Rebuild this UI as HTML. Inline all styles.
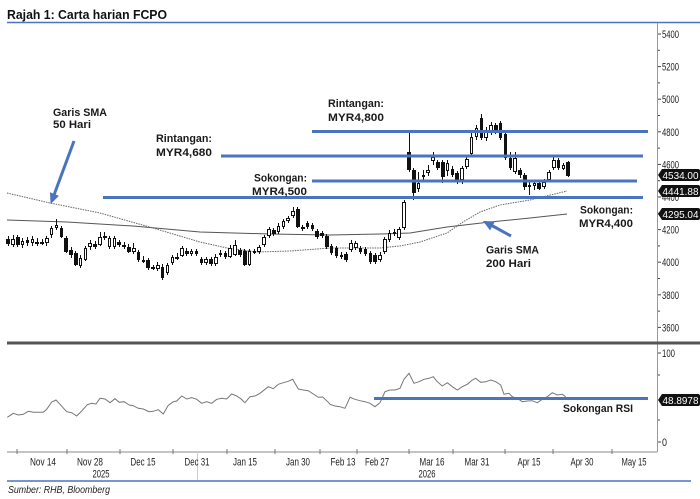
<!DOCTYPE html>
<html><head><meta charset="utf-8">
<style>
html,body{margin:0;padding:0;background:#fff;}
body{width:700px;height:499px;overflow:hidden;position:relative;font-family:"Liberation Sans",sans-serif;}
svg{position:absolute;left:0;top:0;}
.c{position:absolute;left:5.9px;top:0;height:499px;display:flex;}
.c i{flex:none;width:4.83px;height:499px;position:relative;}
.c i::before{content:"";position:absolute;left:1.9px;width:1px;top:calc(var(--h)*1px);height:calc((var(--l) - var(--h))*1px);background:#111;}
.c i::after{content:"";position:absolute;left:0.5px;width:3.6px;box-sizing:border-box;top:calc(var(--t)*1px);height:calc((var(--b) - var(--t))*1px);min-height:1px;border:1px solid #111;background:#fff;}
.c i.b::after{background:#111;}
</style></head><body>

<svg width="700" height="499" viewBox="0 0 700 499">
  <text x="7" y="19" font-size="12.5" font-weight="bold" fill="#111" textLength="160" lengthAdjust="spacingAndGlyphs">Rajah 1: Carta harian FCPO</text>
  <line x1="7" y1="22.5" x2="700" y2="22.5" stroke="#4a74be" stroke-width="1.5"/>

  <line x1="657.5" y1="23" x2="657.5" y2="452" stroke="#999" stroke-width="1"/>
  <g stroke="#444" stroke-width="1">
    <line x1="658" y1="34" x2="661" y2="34"/><line x1="658" y1="50.3" x2="660" y2="50.3"/>
    <line x1="658" y1="66.6" x2="661" y2="66.6"/><line x1="658" y1="82.9" x2="660" y2="82.9"/>
    <line x1="658" y1="99.2" x2="661" y2="99.2"/><line x1="658" y1="115.5" x2="660" y2="115.5"/>
    <line x1="658" y1="131.8" x2="661" y2="131.8"/><line x1="658" y1="148.1" x2="660" y2="148.1"/>
    <line x1="658" y1="164.4" x2="661" y2="164.4"/><line x1="658" y1="180.7" x2="660" y2="180.7"/>
    <line x1="658" y1="197" x2="661" y2="197"/><line x1="658" y1="213.3" x2="660" y2="213.3"/>
    <line x1="658" y1="229.6" x2="661" y2="229.6"/><line x1="658" y1="245.9" x2="660" y2="245.9"/>
    <line x1="658" y1="262.2" x2="661" y2="262.2"/><line x1="658" y1="278.5" x2="660" y2="278.5"/>
    <line x1="658" y1="294.8" x2="661" y2="294.8"/><line x1="658" y1="311.1" x2="660" y2="311.1"/>
    <line x1="658" y1="327.4" x2="661" y2="327.4"/>
    <line x1="658" y1="353" x2="661" y2="353"/><line x1="658" y1="375" x2="660" y2="375"/>
    <line x1="658" y1="420" x2="660" y2="420"/><line x1="658" y1="442" x2="661" y2="442"/>
  </g>
  <g font-size="11" fill="#222">
    <text x="662" y="38" textLength="17" lengthAdjust="spacingAndGlyphs">5400</text>
    <text x="662" y="70.6" textLength="17" lengthAdjust="spacingAndGlyphs">5200</text>
    <text x="662" y="103.2" textLength="17" lengthAdjust="spacingAndGlyphs">5000</text>
    <text x="662" y="135.8" textLength="17" lengthAdjust="spacingAndGlyphs">4800</text>
    <text x="662" y="168.4" textLength="17" lengthAdjust="spacingAndGlyphs">4600</text>
    <text x="662" y="201" textLength="17" lengthAdjust="spacingAndGlyphs">4400</text>
    <text x="662" y="233.6" textLength="17" lengthAdjust="spacingAndGlyphs">4200</text>
    <text x="662" y="266.2" textLength="17" lengthAdjust="spacingAndGlyphs">4000</text>
    <text x="662" y="298.8" textLength="17" lengthAdjust="spacingAndGlyphs">3800</text>
    <text x="662" y="331.4" textLength="17" lengthAdjust="spacingAndGlyphs">3600</text>
    <text x="662" y="357" textLength="13" lengthAdjust="spacingAndGlyphs">100</text>
    <text x="662" y="446" textLength="5" lengthAdjust="spacingAndGlyphs">0</text>
  </g>

  <line x1="7" y1="343" x2="700" y2="343" stroke="#555" stroke-width="3"/>

  <polyline fill="none" stroke="#555" stroke-width="1" points="7,220 67,222 133,226 200,232 270,234 330,235 380,234 410,233 447,227 490,222 530,218 567,214"/>
  <polyline fill="none" stroke="#666" stroke-width="1" stroke-dasharray="1.5,1" points="7,193 50,203 100,213 153,228 200,242 227,248 257,252 290,251 330,248 357,248 380,248 400,246 420,242 447,233 463,222 480,212 500,205 530,200 567,191"/>

  <polyline fill="none" stroke="#777" stroke-width="1" points="7.3,417.3 13.3,413.3 18.3,415 23.3,414.3 28.3,411.3 33.3,412.3 43.3,412.3 46.7,409.3 51.7,402 56,400 60,404.3 66.7,411.7 71.7,412.7 76.7,416 81.7,411 87.3,404.7 91.7,403.3 96,404 100,398.3 105,399 110,402.7 115,398.7 119.3,402.3 124,401.7 129.3,405 133.3,405.7 138.3,408.3 143.3,409 149,411.7 153.3,411.3 158.3,409.7 163.3,414 168.3,405.3 173.3,401.7 176.7,401 181.7,396 186.7,399 191.7,397.7 196.7,399.3 201.7,403.3 206.7,401.7 211.7,403.3 216.7,399.3 221.7,398.3 226.7,399 231.7,394 236.7,396 240.7,398.7 245,402.7 250,396.7 255,396 260,393.3 265,389.3 268.3,386.7 273.3,388.7 278.3,384.3 283.3,382.7 288.3,381.3 292.7,379.3 298.3,389 303.3,390 308.3,390.7 313.3,394 318.3,397.3 322.7,397 328.3,402.3 330,404.3 335,406 340,406.7 345,408.3 350,397.3 355,399.3 360,400.7 365,401.7 370,403.3 375,406.7 380,402.7 385,391.7 390,390 395,390 400,388.3 404,379.3 409,373.3 414,383.3 419,381.7 424,379.3 429,378.3 433.3,376.7 437.3,381.7 442.3,386 447.3,382.7 452.3,386.7 457.3,390 462.3,386.7 467.3,384.3 472.3,380 475.7,378.3 480.7,382.3 485.7,381.7 490.7,380 495.7,381.7 500.7,385 504,394.3 509,393.3 512.3,396.7 517.3,398.3 522.3,401.7 527.3,401 532.3,400.7 537.3,402.7 542.3,399.3 547.3,396.7 552.3,392.7 557.3,395 562.3,394.3 565.7,396.7"/>

  <line x1="7" y1="452" x2="657" y2="452" stroke="#888" stroke-width="1"/>
  <g stroke="#777" stroke-width="1">
    <line x1="17" y1="449" x2="17" y2="454"/><line x1="67" y1="449" x2="67" y2="454"/>
    <line x1="120" y1="449" x2="120" y2="454"/><line x1="173" y1="449" x2="173" y2="454"/>
    <line x1="227" y1="449" x2="227" y2="454"/><line x1="275" y1="449" x2="275" y2="454"/>
    <line x1="320" y1="449" x2="320" y2="454"/><line x1="357" y1="449" x2="357" y2="454"/>
    <line x1="409" y1="449" x2="409" y2="454"/><line x1="453" y1="449" x2="453" y2="454"/>
    <line x1="505" y1="449" x2="505" y2="454"/><line x1="553" y1="449" x2="553" y2="454"/>
    <line x1="612" y1="449" x2="612" y2="454"/>
    <line x1="197.5" y1="452" x2="197.5" y2="481" stroke="#ccc"/>
  </g>
  <g font-size="11" fill="#222" text-anchor="middle">
    <text x="43" y="465.5" textLength="26" lengthAdjust="spacingAndGlyphs">Nov 14</text>
    <text x="90" y="465.5" textLength="26" lengthAdjust="spacingAndGlyphs">Nov 28</text>
    <text x="143" y="465.5" textLength="25" lengthAdjust="spacingAndGlyphs">Dec 15</text>
    <text x="197" y="465.5" textLength="25" lengthAdjust="spacingAndGlyphs">Dec 31</text>
    <text x="245" y="465.5" textLength="24" lengthAdjust="spacingAndGlyphs">Jan 15</text>
    <text x="298" y="465.5" textLength="24" lengthAdjust="spacingAndGlyphs">Jan 30</text>
    <text x="343" y="465.5" textLength="25" lengthAdjust="spacingAndGlyphs">Feb 13</text>
    <text x="377" y="465.5" textLength="24" lengthAdjust="spacingAndGlyphs">Feb 27</text>
    <text x="432" y="465.5" textLength="25" lengthAdjust="spacingAndGlyphs">Mar 16</text>
    <text x="477" y="465.5" textLength="25" lengthAdjust="spacingAndGlyphs">Mar 31</text>
    <text x="529" y="465.5" textLength="23" lengthAdjust="spacingAndGlyphs">Apr 15</text>
    <text x="582" y="465.5" textLength="23" lengthAdjust="spacingAndGlyphs">Apr 30</text>
    <text x="634" y="465.5" textLength="25" lengthAdjust="spacingAndGlyphs">May 15</text>
    <text x="101" y="477.5" textLength="17" lengthAdjust="spacingAndGlyphs">2025</text>
    <text x="427" y="477.5" textLength="17" lengthAdjust="spacingAndGlyphs">2026</text>
  </g>
  <line x1="7" y1="481" x2="691" y2="481" stroke="#4a74be" stroke-width="1.5"/>
  <text x="8" y="493" font-size="10" font-style="italic" fill="#222" textLength="102" lengthAdjust="spacingAndGlyphs">Sumber: RHB, Bloomberg</text>
</svg>

<div class="c">
<i class="b" style="--t:239;--b:244;--h:236;--l:246"></i>
<i style="--t:239;--b:245;--h:235;--l:247"></i>
<i class="b" style="--t:237;--b:245;--h:235;--l:247"></i>
<i style="--t:241;--b:245;--h:238;--l:248"></i>
<i class="b" style="--t:240;--b:243;--h:237;--l:246"></i>
<i style="--t:239;--b:243;--h:236;--l:246"></i>
<i style="--t:242;--b:243;--h:238;--l:246"></i>
<i style="--t:242;--b:243;--h:239;--l:245"></i>
<i style="--t:238;--b:243;--h:236;--l:246"></i>
<i style="--t:228;--b:235;--h:226;--l:238"></i>
<i style="--t:225;--b:228;--h:219;--l:230"></i>
<i class="b" style="--t:228;--b:237;--h:226;--l:238"></i>
<i class="b" style="--t:238;--b:252;--h:236;--l:253"></i>
<i class="b" style="--t:250;--b:255;--h:247;--l:258"></i>
<i class="b" style="--t:253;--b:265;--h:251;--l:266"></i>
<i style="--t:258;--b:266;--h:255;--l:268"></i>
<i style="--t:248;--b:260;--h:246;--l:261"></i>
<i style="--t:243;--b:247;--h:240;--l:250"></i>
<i class="b" style="--t:244;--b:247;--h:241;--l:249"></i>
<i style="--t:237;--b:245;--h:232;--l:246"></i>
<i style="--t:236;--b:237;--h:232;--l:240"></i>
<i style="--t:238;--b:247;--h:236;--l:249"></i>
<i style="--t:238;--b:247;--h:236;--l:249"></i>
<i class="b" style="--t:242;--b:245;--h:240;--l:247"></i>
<i style="--t:245;--b:247;--h:242;--l:249"></i>
<i class="b" style="--t:247;--b:252;--h:244;--l:253"></i>
<i style="--t:248;--b:252;--h:243;--l:254"></i>
<i class="b" style="--t:252;--b:260;--h:250;--l:262"></i>
<i style="--t:260;--b:261;--h:256;--l:263"></i>
<i class="b" style="--t:260;--b:268;--h:258;--l:270"></i>
<i style="--t:267;--b:268;--h:265;--l:270"></i>
<i style="--t:265;--b:269;--h:262;--l:271"></i>
<i class="b" style="--t:267;--b:278;--h:264;--l:280"></i>
<i style="--t:265;--b:273;--h:263;--l:275"></i>
<i style="--t:257;--b:263;--h:255;--l:265"></i>
<i style="--t:257;--b:258;--h:253;--l:260"></i>
<i style="--t:248;--b:256;--h:246;--l:257"></i>
<i class="b" style="--t:251;--b:254;--h:248;--l:256"></i>
<i style="--t:251;--b:254;--h:249;--l:256"></i>
<i class="b" style="--t:251;--b:254;--h:249;--l:256"></i>
<i class="b" style="--t:259;--b:263;--h:257;--l:265"></i>
<i style="--t:259;--b:263;--h:257;--l:265"></i>
<i class="b" style="--t:259;--b:264;--h:257;--l:266"></i>
<i style="--t:257;--b:264;--h:254;--l:266"></i>
<i style="--t:253;--b:255;--h:250;--l:257"></i>
<i class="b" style="--t:253;--b:257;--h:251;--l:259"></i>
<i style="--t:248;--b:257;--h:245;--l:258"></i>
<i style="--t:245;--b:255;--h:240;--l:256"></i>
<i class="b" style="--t:250;--b:255;--h:248;--l:257"></i>
<i class="b" style="--t:251;--b:265;--h:249;--l:266"></i>
<i style="--t:251;--b:265;--h:249;--l:266"></i>
<i style="--t:251;--b:252;--h:249;--l:254"></i>
<i style="--t:247;--b:252;--h:245;--l:254"></i>
<i style="--t:237;--b:245;--h:235;--l:247"></i>
<i style="--t:229;--b:236;--h:227;--l:238"></i>
<i class="b" style="--t:230;--b:234;--h:228;--l:236"></i>
<i style="--t:226;--b:232;--h:223;--l:234"></i>
<i style="--t:221;--b:227;--h:219;--l:229"></i>
<i style="--t:218;--b:221;--h:216;--l:223"></i>
<i style="--t:211;--b:216;--h:207;--l:218"></i>
<i class="b" style="--t:209;--b:227;--h:207;--l:228"></i>
<i style="--t:227;--b:229;--h:225;--l:231"></i>
<i class="b" style="--t:223;--b:227;--h:221;--l:229"></i>
<i class="b" style="--t:225;--b:229;--h:223;--l:231"></i>
<i class="b" style="--t:231;--b:237;--h:229;--l:239"></i>
<i class="b" style="--t:233;--b:236;--h:231;--l:238"></i>
<i class="b" style="--t:236;--b:247;--h:234;--l:249"></i>
<i class="b" style="--t:246;--b:253;--h:244;--l:255"></i>
<i class="b" style="--t:248;--b:256;--h:246;--l:258"></i>
<i style="--t:255;--b:256;--h:252;--l:259"></i>
<i class="b" style="--t:254;--b:260;--h:252;--l:262"></i>
<i style="--t:243;--b:250;--h:240;--l:252"></i>
<i style="--t:243;--b:248;--h:241;--l:250"></i>
<i class="b" style="--t:248;--b:252;--h:246;--l:254"></i>
<i class="b" style="--t:249;--b:254;--h:247;--l:256"></i>
<i class="b" style="--t:253;--b:262;--h:251;--l:264"></i>
<i class="b" style="--t:255;--b:262;--h:253;--l:264"></i>
<i style="--t:255;--b:260;--h:252;--l:262"></i>
<i style="--t:239;--b:252;--h:237;--l:254"></i>
<i style="--t:233;--b:240;--h:230;--l:242"></i>
<i class="b" style="--t:232;--b:234;--h:229;--l:236"></i>
<i style="--t:229;--b:238;--h:227;--l:240"></i>
<i style="--t:202;--b:228;--h:200;--l:230"></i>
<i class="b" style="--t:152;--b:170;--h:131;--l:172"></i>
<i class="b" style="--t:170;--b:193;--h:168;--l:200"></i>
<i style="--t:183;--b:189;--h:172;--l:192"></i>
<i style="--t:175;--b:177;--h:170;--l:180"></i>
<i style="--t:170;--b:173;--h:165;--l:176"></i>
<i style="--t:157;--b:161;--h:152;--l:165"></i>
<i class="b" style="--t:162;--b:168;--h:160;--l:170"></i>
<i class="b" style="--t:162;--b:177;--h:160;--l:183"></i>
<i style="--t:163;--b:171;--h:160;--l:176"></i>
<i class="b" style="--t:169;--b:175;--h:166;--l:177"></i>
<i class="b" style="--t:173;--b:180;--h:171;--l:184"></i>
<i style="--t:168;--b:180;--h:166;--l:184"></i>
<i style="--t:159;--b:167;--h:155;--l:169"></i>
<i style="--t:137;--b:154;--h:133;--l:156"></i>
<i style="--t:128;--b:137;--h:125;--l:140"></i>
<i class="b" style="--t:118;--b:138;--h:114;--l:140"></i>
<i style="--t:132;--b:138;--h:127;--l:141"></i>
<i style="--t:125;--b:133;--h:122;--l:135"></i>
<i class="b" style="--t:125;--b:132;--h:123;--l:134"></i>
<i class="b" style="--t:123;--b:138;--h:121;--l:140"></i>
<i class="b" style="--t:134;--b:158;--h:132;--l:160"></i>
<i class="b" style="--t:158;--b:168;--h:152;--l:170"></i>
<i style="--t:158;--b:172;--h:152;--l:174"></i>
<i class="b" style="--t:170;--b:175;--h:168;--l:178"></i>
<i class="b" style="--t:175;--b:187;--h:173;--l:190"></i>
<i style="--t:185;--b:187;--h:182;--l:195"></i>
<i style="--t:183;--b:186;--h:181;--l:190"></i>
<i class="b" style="--t:183;--b:189;--h:181;--l:190"></i>
<i style="--t:182;--b:187;--h:179;--l:189"></i>
<i style="--t:172;--b:180;--h:170;--l:182"></i>
<i style="--t:160;--b:168;--h:157;--l:170"></i>
<i class="b" style="--t:160;--b:168;--h:158;--l:170"></i>
<i style="--t:165;--b:169;--h:163;--l:170"></i>
<i class="b" style="--t:162;--b:176;--h:161;--l:177"></i>
</div>

<svg width="700" height="499" viewBox="0 0 700 499">
  <g stroke="#4a74be" stroke-width="3">
    <line x1="312" y1="131.5" x2="648" y2="131.5"/>
    <line x1="221" y1="156" x2="643" y2="156"/>
    <line x1="312" y1="181" x2="637" y2="181"/>
    <line x1="103" y1="197.5" x2="643" y2="197.5"/>
    <line x1="374" y1="398.5" x2="648" y2="398.5"/>
  </g>
  <g fill="#4a74be" stroke="#4a74be">
    <line x1="74" y1="141" x2="54" y2="195" stroke-width="3"/>
    <polygon points="51,203 58,196 50.5,193" stroke-width="1"/>
    <line x1="511" y1="236" x2="491" y2="225" stroke-width="3"/>
    <polygon points="484,221.5 494,222 490,229.5" stroke-width="1"/>
  </g>
  <g font-size="11" font-weight="bold" fill="#1a1a1a">
    <text x="53" y="116" textLength="54" lengthAdjust="spacingAndGlyphs">Garis SMA</text>
    <text x="53" y="128" textLength="38" lengthAdjust="spacingAndGlyphs">50 Hari</text>
    <text x="328" y="107" textLength="56" lengthAdjust="spacingAndGlyphs">Rintangan:</text>
    <text x="328" y="121" textLength="56" lengthAdjust="spacingAndGlyphs">MYR4,800</text>
    <text x="156" y="142" textLength="56" lengthAdjust="spacingAndGlyphs">Rintangan:</text>
    <text x="156" y="156" textLength="56" lengthAdjust="spacingAndGlyphs">MYR4,680</text>
    <text x="254" y="181.5" textLength="53" lengthAdjust="spacingAndGlyphs">Sokongan:</text>
    <text x="252" y="195" textLength="55" lengthAdjust="spacingAndGlyphs">MYR4,500</text>
    <text x="580" y="213.5" textLength="53" lengthAdjust="spacingAndGlyphs">Sokongan:</text>
    <text x="579" y="227" textLength="54" lengthAdjust="spacingAndGlyphs">MYR4,400</text>
    <text x="486" y="253.5" textLength="53" lengthAdjust="spacingAndGlyphs">Garis SMA</text>
    <text x="486" y="267" textLength="45" lengthAdjust="spacingAndGlyphs">200 Hari</text>
    <text x="563" y="412" textLength="70" lengthAdjust="spacingAndGlyphs">Sokongan RSI</text>
  </g>
  <g fill="#111">
    <path d="M658,175 L662,169 H698 Q700,169 700,171 V179 Q700,181 698,181 H662 Z"/>
    <path d="M658,191 L662,185 H698 Q700,185 700,187 V195 Q700,197 698,197 H662 Z"/>
    <path d="M658,214 L662,208 H698 Q700,208 700,210 V218 Q700,220 698,220 H662 Z"/>
    <path d="M658,400 L662,394 H698 Q700,394 700,396 V404 Q700,406 698,406 H662 Z"/>
  </g>
  <g font-size="10.5" fill="#fff">
    <text x="662.5" y="178.8" textLength="36" lengthAdjust="spacingAndGlyphs">4534.00</text>
    <text x="662.5" y="194.8" textLength="36" lengthAdjust="spacingAndGlyphs">4441.88</text>
    <text x="662.5" y="217.8" textLength="36" lengthAdjust="spacingAndGlyphs">4295.04</text>
    <text x="662.5" y="403.8" textLength="36" lengthAdjust="spacingAndGlyphs">48.8978</text>
  </g>
</svg>
</body></html>
